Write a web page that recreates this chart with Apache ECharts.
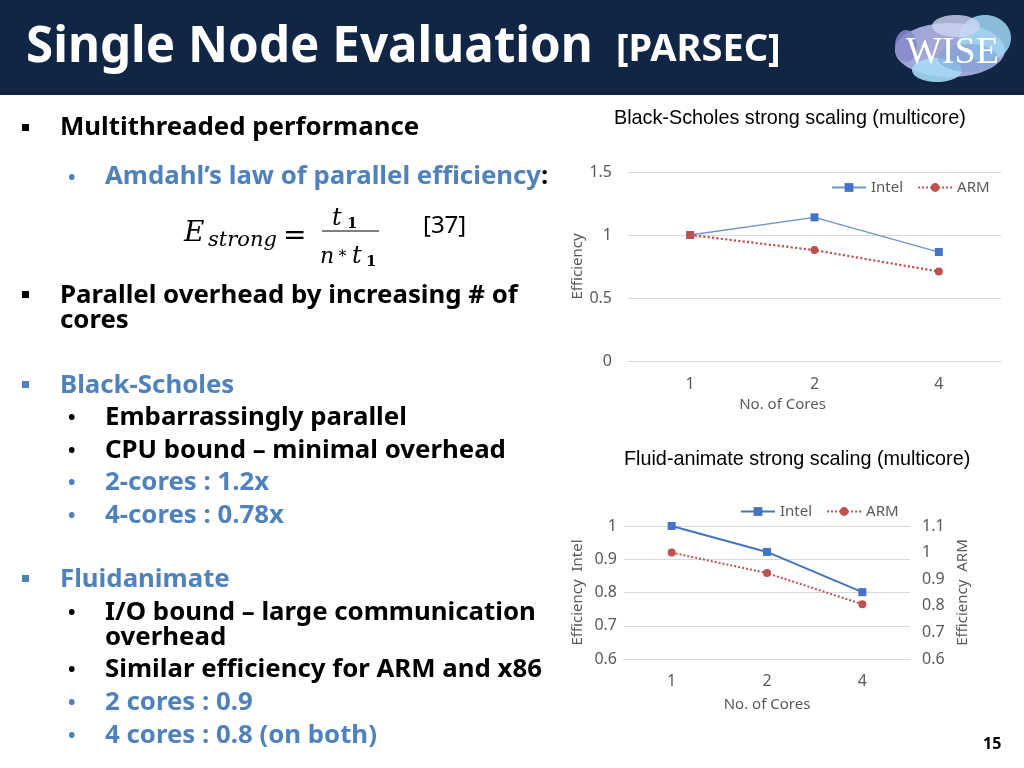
<!DOCTYPE html>
<html>
<head>
<meta charset="utf-8">
<script src="https://cdn.jsdelivr.net/npm/echarts@6.0.0/dist/echarts.min.js"></script>
<style>
html,body{margin:0;padding:0;background:#fff;}
#c{width:1024px;height:768px;}
</style>
</head>
<body>
<div id="c"></div>
<script>
// ---- chart data ----
const cores = ['1', '2', '4'];
const bsIntel = [1.0, 1.14, 0.865];
const bsArm = [1.0, 0.88, 0.71];
const faIntel = [1.0, 0.922, 0.801];
const faArm = [1.0, 0.923, 0.806];
const bsTitle = 'Black-Scholes strong scaling (multicore)';
const faTitle = 'Fluid-animate strong scaling (multicore)';

const BLUE = '#4472C4', RED = '#C0504D', GRAY = '#595959', GRID = '#D9D9D9';
const SANS = '"Noto Sans", "Open Sans", sans-serif';
const TXTBLUE = '#4F81BD';
const BODY = 'bold 25.8px "Noto Sans", "Open Sans", sans-serif';
const BUL = 'bold 20px "Noto Sans", "Open Sans", sans-serif';

function txt(x, y, text, fill, font, extra) {
  return Object.assign({
    type: 'text', x: x, y: y, silent: true,
    style: { text: text, fill: fill, font: font, verticalAlign: 'middle', align: 'left' }
  }, extra || {});
}
function sq(x, y, fill) {
  return { type: 'rect', silent: true, shape: { x: x, y: y, width: 7, height: 7 }, style: { fill: fill } };
}
function dot(y, fill) {
  return txt(68, y, '•', fill, BUL);
}

const graphics = [
  { type: 'rect', silent: true, shape: { x: 0, y: 0, width: 1024, height: 95 }, style: { fill: '#112544' } },
  txt(26, 48, 'Single Node Evaluation', '#fff', 'bold 49.3px ' + SANS),
  txt(616, 50, '[PARSEC]', '#fff', 'bold 38px ' + SANS),
  // logo blobs
  { type: 'ellipse', silent: true, shape: { cx: 950, cy: 50, rx: 55, ry: 27 }, style: { fill: 'rgba(178,182,232,0.9)' } },
  { type: 'ellipse', silent: true, shape: { cx: 985, cy: 38, rx: 26, ry: 23 }, style: { fill: 'rgba(160,214,245,0.85)' } },
  { type: 'ellipse', silent: true, shape: { cx: 937, cy: 70, rx: 25, ry: 12 }, style: { fill: 'rgba(165,218,245,0.9)' } },
  { type: 'ellipse', silent: true, shape: { cx: 906, cy: 46, rx: 11, ry: 16 }, style: { fill: 'rgba(135,138,205,0.85)' } },
  { type: 'ellipse', silent: true, shape: { cx: 956, cy: 26, rx: 24, ry: 11 }, style: { fill: 'rgba(205,212,242,0.8)' } },
  { type: 'ellipse', silent: true, shape: { cx: 968, cy: 58, rx: 30, ry: 14 }, style: { fill: 'rgba(120,160,215,0.55)' } },
  txt(906, 53, 'WISE', '#fff', '38px "Liberation Serif", serif'),
  // body text
  sq(22, 124, '#000'),
  txt(60, 128, 'Multithreaded performance', '#000', BODY),
  dot(178, TXTBLUE),
  { type: 'text', x: 105, y: 177, silent: true,
    style: { text: '{a|Amdahl’s law of parallel efficiency}{b|:}', font: BODY, verticalAlign: 'middle',
      rich: { a: { fill: TXTBLUE, font: BODY }, b: { fill: '#000', font: BODY } } } },
  // formula
  txt(184, 234, 'E', '#000', 'italic 28px "DejaVu Serif", serif'),
  txt(208, 241, 'strong', '#000', 'italic 21px "DejaVu Serif", serif'),
  txt(283, 237, '=', '#000', '28px "DejaVu Serif", serif'),
  { type: 'line', silent: true, shape: { x1: 322, y1: 231, x2: 379, y2: 231 }, style: { stroke: '#000', lineWidth: 1.2 } },
  txt(332, 219, 't', '#000', 'italic 24px "DejaVu Serif", serif'),
  txt(347, 224, '1', '#000', 'bold 15px "DejaVu Serif", serif'),
  txt(320, 257, 'n', '#000', 'italic 22px "DejaVu Serif", serif'),
  txt(337, 254, '∗', '#000', '16px "DejaVu Serif", serif'),
  txt(352, 257, 't', '#000', 'italic 24px "DejaVu Serif", serif'),
  txt(366, 262, '1', '#000', 'bold 15px "DejaVu Serif", serif'),
  txt(423, 226, '[37]', '#000', '24px ' + SANS),
  sq(22, 291, '#000'),
  txt(60, 296, 'Parallel overhead by increasing # of', '#000', BODY),
  txt(60, 321, 'cores', '#000', BODY),
  sq(22, 381, TXTBLUE),
  txt(60, 386, 'Black-Scholes', TXTBLUE, BODY),
  dot(418, '#000'),
  txt(105, 418, 'Embarrassingly parallel', '#000', BODY),
  dot(451, '#000'),
  txt(105, 451, 'CPU bound – minimal overhead', '#000', BODY),
  dot(483, TXTBLUE),
  txt(105, 483, '2-cores : 1.2x', TXTBLUE, BODY),
  dot(516, TXTBLUE),
  txt(105, 516, '4-cores : 0.78x', TXTBLUE, BODY),
  sq(22, 575, TXTBLUE),
  txt(60, 580, 'Fluidanimate', TXTBLUE, BODY),
  dot(613, '#000'),
  txt(105, 613, 'I/O bound – large communication', '#000', BODY),
  txt(105, 638, 'overhead', '#000', BODY),
  dot(670, '#000'),
  txt(105, 670, 'Similar efficiency for ARM and x86', '#000', BODY),
  dot(703, TXTBLUE),
  txt(105, 703, '2 cores : 0.9', TXTBLUE, BODY),
  dot(736, TXTBLUE),
  txt(105, 736, '4 cores : 0.8 (on both)', TXTBLUE, BODY),
  txt(983, 744, '15', '#000', 'bold 16px ' + SANS)
];

const axisLabel = (m) => ({ color: GRAY, fontSize: 16, fontFamily: SANS, margin: m });
const nameStyle = (pad) => ({ color: GRAY, fontSize: 15, fontFamily: SANS, padding: pad || 0 });

const option = {
  animation: false,
  graphic: graphics,
  title: [
    { text: bsTitle, left: 614, top: 109, padding: 0,
      textStyle: { fontSize: 19.8, fontFamily: '"Liberation Sans", Arial, sans-serif', fontWeight: 'normal', color: '#000' } },
    { text: faTitle, left: 624, top: 450, padding: 0,
      textStyle: { fontSize: 19.8, fontFamily: '"Liberation Sans", Arial, sans-serif', fontWeight: 'normal', color: '#000' } }
  ],
  legend: [
    { data: ['Intel', 'ARM'], left: 831, top: 180, padding: 0, itemWidth: 34, itemHeight: 11, itemGap: 14,
      textStyle: { color: GRAY, fontSize: 15, fontFamily: SANS }, selectedMode: false,
      formatter: n => n.trim() },
    { data: ['Intel ', 'ARM '], left: 740, top: 504, padding: 0, itemWidth: 34, itemHeight: 11, itemGap: 14,
      textStyle: { color: GRAY, fontSize: 15, fontFamily: SANS }, selectedMode: false,
      formatter: n => n.trim() }
  ],
  grid: [
    { left: 628, top: 172, width: 373, height: 189 },
    { left: 624, top: 526, width: 286, height: 133 }
  ],
  xAxis: [
    { type: 'category', gridIndex: 0, data: cores,
      axisLine: { lineStyle: { color: GRID } }, axisTick: { show: false },
      axisLabel: axisLabel(15),
      name: 'No. of Cores', nameLocation: 'middle', nameGap: 36, nameTextStyle: nameStyle([0, 64, 0, 0]) },
    { type: 'category', gridIndex: 1, data: cores,
      axisLine: { lineStyle: { color: GRID } }, axisTick: { show: false },
      axisLabel: axisLabel(14),
      name: 'No. of Cores', nameLocation: 'middle', nameGap: 38, nameTextStyle: nameStyle() }
  ],
  yAxis: [
    { type: 'value', gridIndex: 0, min: 0, max: 1.5, interval: 0.5,
      axisLine: { show: false }, axisTick: { show: false },
      splitLine: { lineStyle: { color: GRID } }, axisLabel: axisLabel(16),
      name: 'Efficiency', nameLocation: 'middle', nameGap: 43, nameRotate: 90, nameTextStyle: nameStyle() },
    { type: 'value', gridIndex: 1, min: 0.6, max: 1, interval: 0.1,
      axisLine: { show: false }, axisTick: { show: false },
      splitLine: { lineStyle: { color: GRID } }, axisLabel: axisLabel(7),
      name: 'Efficiency  Intel', nameLocation: 'middle', nameGap: 39, nameRotate: 90, nameTextStyle: nameStyle() },
    { type: 'value', gridIndex: 1, position: 'right', min: 0.6, max: 1.1, interval: 0.1,
      axisLine: { show: false }, axisTick: { show: false },
      splitLine: { show: false }, axisLabel: axisLabel(12),
      name: 'Efficiency  ARM', nameLocation: 'middle', nameGap: 45, nameRotate: 90, nameTextStyle: nameStyle() }
  ],
  series: [
    { name: 'Intel', type: 'line', xAxisIndex: 0, yAxisIndex: 0, data: bsIntel,
      symbol: 'rect', symbolSize: 8, itemStyle: { color: BLUE },
      lineStyle: { color: '#6E93D0', width: 1.3 } },
    { name: 'ARM', type: 'line', xAxisIndex: 0, yAxisIndex: 0, data: bsArm,
      symbol: 'circle', symbolSize: 8, itemStyle: { color: RED },
      lineStyle: { color: RED, width: 2.2, type: 'dotted' } },
    { name: 'Intel ', type: 'line', xAxisIndex: 1, yAxisIndex: 1, data: faIntel,
      symbol: 'rect', symbolSize: 8, itemStyle: { color: BLUE },
      lineStyle: { color: BLUE, width: 2 } },
    { name: 'ARM ', type: 'line', xAxisIndex: 1, yAxisIndex: 2, data: faArm,
      symbol: 'circle', symbolSize: 8, itemStyle: { color: RED },
      lineStyle: { color: RED, width: 2, type: 'dotted' } }
  ]
};
const chart = echarts.init(document.getElementById('c'));
chart.setOption(option);
</script>
</body>
</html>
